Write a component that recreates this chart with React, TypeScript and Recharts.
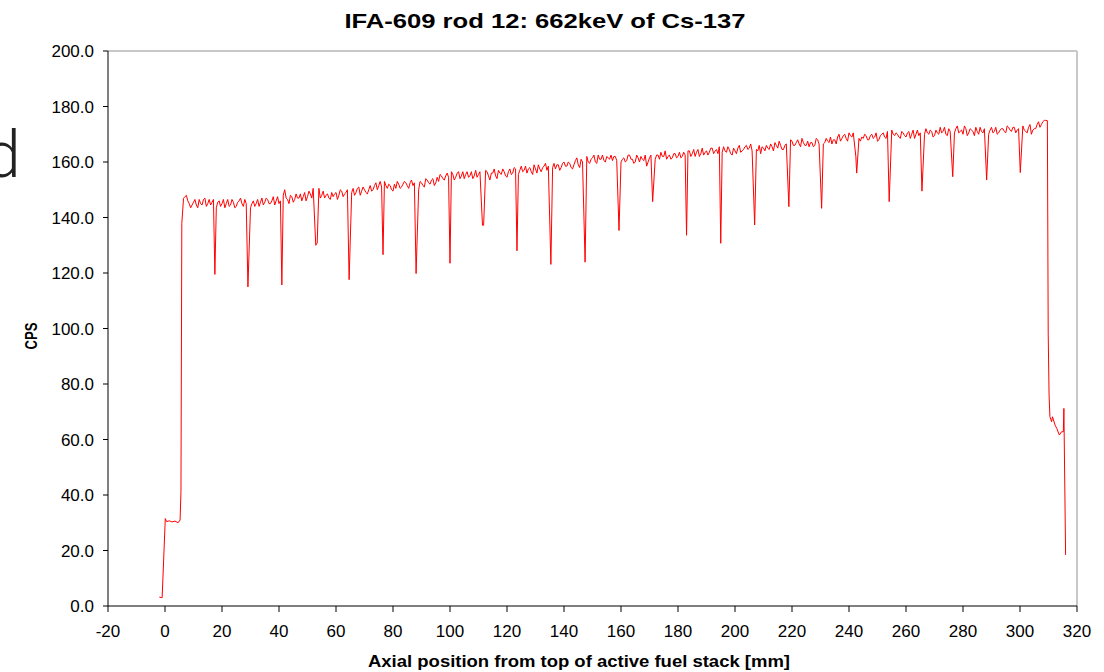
import React from 'react';
import { LineChart, Line, XAxis, YAxis, ReferenceLine } from 'recharts';

const FONT = '"Liberation Sans", Arial, Helvetica, sans-serif';

const xTicks = [-20, 0, 20, 40, 60, 80, 100, 120, 140, 160, 180, 200, 220, 240, 260, 280, 300, 320];
const yTicks = [0, 20, 40, 60, 80, 100, 120, 140, 160, 180, 200];

// rising edge at the top of the stack [mm, cps]
const leadIn: [number, number][] = [
  [-2.0, 3.2], [-1.0, 3.0], [0.1, 31.5], [0.6, 30.4], [1.5, 30.7], [2.5, 30.3],
  [3.5, 30.6], [4.6, 30.0], [5.3, 31.0], [5.6, 41.2], [5.9, 137.9], [6.5, 146.9],
];

// plateau readings, one per mm starting at 7 mm
const plateauStart = 7;
const plateau = [
  147.5, 146.0, 143.5, 145.5, 144.5, 146.5, 144.5, 147.0, 145.0, 144.5, // 7
  146.5, 143.5, 146.0, 145.0, 143.5, 146.5, 144.5, 145.5, 144.0, 146.0, // 17
  145.0, 146.5, 145.5, 143.5, 146.0, 145.0, 144.0, 147.0, 145.5, 146.5, // 27
  145.0, 147.5, 146.0, 145.0, 146.0, 150.0, 146.5, 148.0, 145.5, 148.5, // 37
  147.0, 146.0, 149.0, 147.5, 148.5, 150.5, 148.0, 150.5, 148.0, 147.0, // 47
  148.5, 146.5, 147.5, 149.0, 148.0, 149.5, 148.5, 150.0, 148.5, 150.5, // 57
  149.0, 151.0, 149.5, 150.0, 148.5, 151.5, 150.0, 152.5, 151.5, 151.0, // 67
  153.0, 150.5, 151.5, 149.5, 150.5, 152.0, 151.0, 153.0, 151.5, 152.5, // 77
  151.5, 154.0, 150.0, 152.5, 151.0, 153.5, 152.0, 154.0, 152.5, 153.0, // 87
  155.0, 153.5, 156.0, 154.0, 155.5, 154.5, 156.5, 155.0, 154.0, 156.5, // 97
  155.0, 154.0, 157.0, 155.5, 156.0, 155.0, 156.5, 153.5, 156.0, 155.0, // 107
  157.0, 155.5, 156.5, 154.5, 157.5, 156.0, 157.5, 155.5, 158.5, 157.0, // 117
  156.0, 158.0, 155.5, 157.5, 159.0, 156.5, 158.5, 157.0, 160.5, 158.0, // 127
  157.5, 159.0, 158.0, 160.0, 158.5, 159.5, 157.5, 160.5, 159.0, 161.0, // 137
  160.5, 162.0, 159.5, 161.5, 160.0, 162.5, 161.0, 160.5, 162.0, 161.0, // 147
  160.5, 162.0, 161.5, 160.0, 161.5, 160.5, 162.5, 161.0, 160.0, 161.5, // 157
  162.0, 160.5, 158.5, 161.5, 162.0, 161.0, 162.5, 163.5, 162.0, 161.0, // 167
  162.5, 161.5, 163.0, 162.0, 161.5, 163.5, 162.5, 164.0, 163.0, 162.0, // 177
  164.5, 163.0, 162.5, 164.0, 163.5, 165.0, 164.0, 163.0, 164.5, 165.5, // 187
  163.5, 164.5, 162.5, 164.0, 165.0, 163.5, 164.5, 166.0, 165.0, 164.0, // 197
  165.5, 164.0, 163.0, 165.0, 166.0, 164.5, 165.5, 167.0, 165.0, 166.0, // 207
  164.5, 166.5, 165.0, 167.5, 166.0, 168.0, 165.5, 167.0, 166.0, 165.5, // 217
  167.0, 166.0, 168.0, 167.5, 166.5, 168.5, 167.0, 166.5, 168.0, 169.0, // 227
  167.5, 169.5, 168.5, 170.5, 169.0, 168.0, 170.0, 167.5, 168.5, 169.5, // 237
  168.0, 170.0, 169.0, 167.5, 169.5, 170.5, 168.5, 169.0, 171.5, 169.5, // 247
  170.0, 168.5, 170.5, 169.0, 171.0, 170.0, 168.5, 171.5, 170.5, 169.5, // 257
  172.0, 170.0, 171.0, 169.5, 170.5, 172.5, 171.0, 170.0, 172.0, 171.5, // 267
  170.5, 173.0, 171.0, 170.0, 172.0, 170.5, 171.5, 169.5, 171.0, 172.5, // 277
  170.5, 171.5, 170.0, 172.5, 171.0, 170.0, 171.5, 172.0, 170.5, 172.5, // 287
  171.0, 172.5, 171.5, 170.5, 173.0, 171.0, 172.5, 170.0, 172.0, 173.5, // 297
  172.5, 174.5, 175.0, // 307
];

// readings in between, one per mm starting at 7.5 mm
const halfStart = 7.5;
const plateauHalf = [
  148.0, 145.0, 144.5, 146.5, 143.5, 145.0, 146.5, 144.0, 146.5, 145.5, // 7.5
  145.0, 145.5, 144.0, 146.5, 145.0, 144.0, 146.5, 143.5, 145.5, 147.0, // 17.5
  144.0, 145.0, 146.5, 145.0, 144.0, 146.5, 145.5, 144.5, 147.0, 145.0, // 27.5
  146.0, 144.5, 147.5, 146.0, 148.0, 147.0, 145.0, 147.5, 146.5, 147.0, // 37.5
  148.5, 147.5, 146.0, 149.5, 147.0, 149.0, 151.0, 147.0, 149.5, 148.0, // 47.5
  147.0, 149.0, 148.5, 146.5, 150.0, 147.5, 149.0, 151.0, 149.0, 148.0, // 57.5
  150.5, 148.0, 151.0, 149.0, 150.0, 149.5, 151.5, 150.0, 153.0, 150.0, // 67.5
  151.5, 152.0, 150.0, 152.0, 153.0, 150.5, 152.0, 152.5, 150.5, 153.5, // 77.5
  152.5, 151.0, 153.0, 151.5, 154.0, 152.5, 153.5, 151.5, 154.5, 155.5, // 87.5
  154.0, 155.0, 154.5, 156.5, 153.5, 156.0, 154.0, 156.5, 155.5, 154.5, // 97.5
  156.5, 155.0, 154.5, 156.5, 153.0, 157.0, 155.0, 156.0, 157.5, 154.0, // 107.5
  156.0, 157.5, 155.0, 156.5, 155.5, 158.0, 156.0, 157.0, 156.5, 158.5, // 117.5
  157.5, 156.5, 159.0, 156.0, 157.5, 158.0, 159.5, 158.5, 157.0, 159.5, // 127.5
  159.0, 157.0, 159.5, 158.5, 160.0, 158.0, 159.0, 161.5, 158.0, 160.0, // 137.5
  161.5, 160.0, 161.0, 162.5, 159.5, 161.0, 162.5, 160.0, 161.5, 162.5, // 147.5
  162.0, 160.5, 162.5, 161.0, 160.0, 162.5, 161.0, 159.5, 162.5, 160.0, // 157.5
  161.0, 162.5, 160.0, 162.5, 160.5, 162.5, 161.0, 162.0, 164.0, 162.0, // 167.5
  161.0, 163.0, 161.5, 163.5, 162.0, 162.5, 164.0, 162.0, 164.5, 163.5, // 177.5
  162.0, 165.0, 163.5, 162.5, 165.0, 163.0, 164.5, 165.5, 163.5, 164.0, // 187.5
  165.5, 163.0, 165.0, 163.0, 166.0, 164.0, 165.5, 164.5, 166.5, 163.5, // 197.5
  164.5, 166.0, 165.5, 164.0, 165.0, 166.5, 164.0, 166.0, 167.5, 164.5, // 207.5
  166.0, 164.5, 168.0, 166.0, 167.0, 166.5, 168.5, 166.0, 167.5, 167.0, // 217.5
  165.5, 168.5, 166.5, 169.0, 167.0, 167.5, 169.0, 168.0, 166.5, 170.0, // 227.5
  168.5, 170.0, 167.5, 169.5, 170.5, 169.5, 168.5, 169.0, 170.0, 168.0, // 237.5
  169.5, 168.5, 170.5, 168.0, 170.0, 169.0, 171.0, 167.5, 170.0, 170.5, // 247.5
  169.0, 171.0, 169.5, 170.5, 168.5, 171.5, 170.0, 169.5, 172.0, 170.0, // 257.5
  170.5, 171.5, 169.0, 171.5, 170.0, 170.5, 172.5, 169.5, 171.0, 173.5, // 267.5
  172.0, 170.5, 171.5, 173.0, 169.5, 172.0, 171.0, 172.5, 170.0, 171.0, // 277.5
  172.0, 169.5, 171.5, 170.5, 172.5, 170.5, 172.0, 171.0, 173.0, 171.5, // 287.5
  172.5, 170.5, 172.0, 173.5, 171.5, 170.5, 173.5, 171.5, 172.0, 174.5, // 297.5
  173.5, 175.0, // 307.5
];

// pellet interface dips [mm, cps]
const dips: [number, number][] = [
  [17.5, 119.5], [29.1, 115.0], [41.0, 115.7], [52.9, 130.0], [53.4, 130.8],
  [64.6, 117.6], [76.5, 126.6], [88.1, 119.8], [100.0, 123.5], [111.4, 137.2],
  [111.8, 137.2], [123.5, 128.0], [135.4, 123.1], [147.4, 123.9], [159.3, 135.3],
  [171.1, 145.7], [183.0, 133.6], [195.0, 130.7], [206.9, 137.3], [218.9, 143.9],
  [230.4, 143.3], [242.4, 162.0], [242.7, 156.0], [254.1, 145.7], [265.6, 149.5],
  [276.4, 154.7], [288.3, 153.5], [300.1, 156.2],
];

// falling edge at the bottom of the stack [mm, cps]
const tailOut: [number, number][] = [
  [309.6, 174.9], [309.9, 98.0], [310.2, 76.0], [310.5, 68.2], [311.1, 66.4],
  [311.4, 68.2], [312.3, 65.2], [312.9, 64.0], [313.8, 61.6], [314.6, 62.8],
  [315.2, 62.8], [315.4, 71.2], [315.5, 62.0], [316.0, 18.4],
];

const nearDip = (pos: number) => dips.some(([d]) => Math.abs(d - pos) < 0.5);

const buildRows = () => {
  const rows: { pos: number; cps: number }[] = [];
  leadIn.forEach(([pos, cps]) => rows.push({ pos, cps }));
  plateau.forEach((cps, i) => {
    const pos = plateauStart + i;
    if (!nearDip(pos)) rows.push({ pos, cps });
  });
  plateauHalf.forEach((cps, i) => {
    const pos = halfStart + i;
    if (!nearDip(pos)) rows.push({ pos, cps });
  });
  dips.forEach(([pos, cps]) => rows.push({ pos, cps }));
  tailOut.forEach(([pos, cps]) => rows.push({ pos, cps }));
  return rows.sort((a, b) => a.pos - b.pos);
};

const rows = buildRows();

export default function App() {
  return (
    <div style={{ position: 'absolute', left: 0, top: 0, width: 1104, height: 672, background: '#fff', fontFamily: FONT }}>
      <LineChart width={1104} height={672} data={rows} margin={{ top: 51, right: 27, bottom: 0, left: 0 }}>
        <ReferenceLine y={200} stroke="#c8c8c8" strokeWidth={2} />
        <ReferenceLine x={320} stroke="#c8c8c8" strokeWidth={2} />
        <XAxis
          type="number"
          dataKey="pos"
          domain={[-20, 320]}
          ticks={xTicks}
          interval={0}
          allowDataOverflow
          height={66}
          stroke="#000"
          tickSize={6}
          tickMargin={13}
          tick={{ fill: '#000', fontSize: 17, fontFamily: FONT }}
        />
        <YAxis
          type="number"
          domain={[0, 200]}
          ticks={yTicks}
          interval={0}
          width={108}
          stroke="#000"
          tickSize={5}
          tickMargin={9}
          tickFormatter={(v: number) => v.toFixed(1)}
          tick={{ fill: '#000', fontSize: 17, fontFamily: FONT }}
        />
        <Line
          type="linear"
          dataKey="cps"
          stroke="#ff0000"
          strokeWidth={1}
          dot={false}
          isAnimationActive={false}
        />
      </LineChart>
      <svg width={1104} height={672} style={{ position: 'absolute', left: 0, top: 0, pointerEvents: 'none' }}>
        <text x={-15} y={177} fontSize={64} fontWeight={300} fill="#222" fontFamily='Roboto, "Open Sans", sans-serif'>d</text>
        <text x={545} y={28} textAnchor="middle" fontSize={21} fontWeight="bold" fontFamily={FONT} textLength={401} lengthAdjust="spacingAndGlyphs">
          IFA-609 rod 12: 662keV of Cs-137
        </text>
        <text x={579} y={667} textAnchor="middle" fontSize={16} fontWeight="bold" fontFamily={FONT} textLength={422} lengthAdjust="spacingAndGlyphs">
          Axial position from top of active fuel stack [mm]
        </text>
        <text x={37} y={336} transform="rotate(-90 37 336)" textAnchor="middle" fontSize={17} fontWeight="bold" fontFamily={FONT} textLength={27} lengthAdjust="spacingAndGlyphs">
          CPS
        </text>
      </svg>
    </div>
  );
}
